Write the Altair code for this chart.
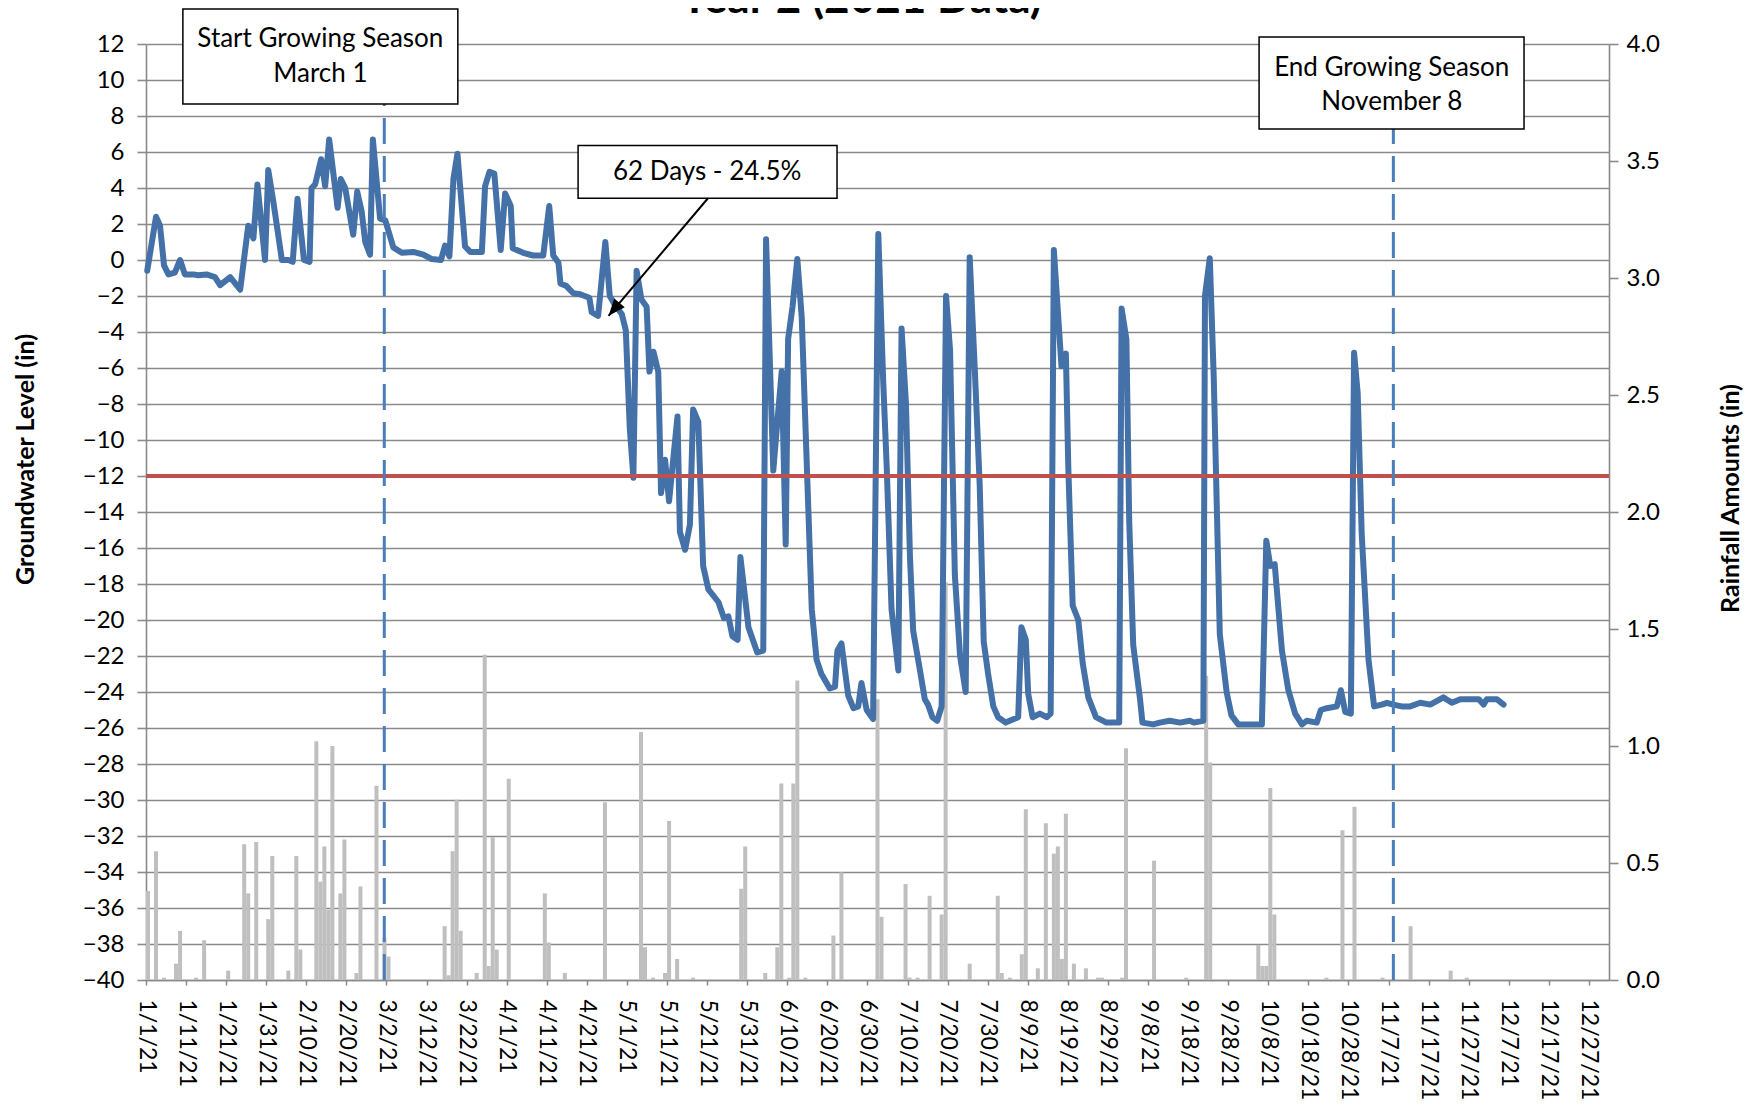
import json
import altair as alt
import pandas as pd

# ---------------- data ----------------
# Groundwater level (in): day offset from 1/1/21 and level
gw_day = [0.3, 2.5, 3.5, 4.5, 5.6, 7.2, 8.5, 9.7, 11.8, 13.0, 15.1, 17.2, 18.5, 21.0, 23.5, 25.5, 26.8, 27.8,
          29.7, 30.5, 31.8, 33.9, 35.5, 36.6, 37.8, 39.4, 40.8, 41.3, 42.2, 43.7, 44.7, 45.7, 47.8, 48.6, 49.7,
          51.7, 52.7, 53.8, 54.7, 55.9, 56.6, 58.4, 59.7, 61.7, 63.8, 66.7, 69.2, 71.3, 73.6, 74.6, 75.7, 76.7,
          77.7, 79.6, 80.9, 83.8, 84.6, 85.7, 86.9, 88.5, 89.6, 91.0, 91.5,
          94.1, 96.6, 99.1, 100.6, 101.6, 102.9, 103.4, 104.9, 106.6, 108.3, 110.6, 111.2, 112.8, 114.6, 115.7,
          117.0, 118.7, 119.7, 120.7, 121.6, 122.4, 123.6, 124.9, 125.6, 126.6, 127.8, 128.5, 129.5, 130.5,
          132.6, 133.2, 134.5, 135.7, 136.5, 137.8, 139.0, 140.3, 142.8, 144.2, 145.3, 146.3, 147.6, 148.3,
          150.3, 152.5, 154.0, 154.7, 155.5, 156.5, 157.7, 158.6, 159.6, 160.2, 161.3, 162.5, 163.6, 166.1,
          167.3, 168.5, 170.6, 171.9, 172.5, 173.5, 175.2, 176.5, 177.7, 178.5, 179.8, 181.4,
          182.7, 183.9, 184.8, 186.0, 187.7, 188.5, 189.6, 190.6, 191.4, 193.1, 194.3, 195.1, 196.2, 197.4,
          198.5, 199.6, 200.6, 201.8, 203.1, 204.5, 205.5, 206.8, 208.0, 209.0, 210.1, 211.4, 212.6, 214.5,
          215.5, 217.6, 218.4, 219.5, 220.1, 221.2, 223.0, 224.7, 225.7, 226.5, 227.6, 228.4, 229.5, 230.1,
          231.2, 232.6, 233.7, 235.1, 237.0, 239.6, 242.8, 243.4, 244.6, 245.3, 246.3, 248.0, 248.6, 251.3,
          252.9, 255.4, 258.0, 260.4, 261.4, 263.8, 264.2, 265.4, 266.4, 267.9, 269.6, 270.8, 272.5,
          273.4, 276.3, 278.4, 279.5, 280.5, 281.6, 283.4, 285.0, 286.7, 288.4, 289.6, 292.1, 293.1, 294.6,
          297.1, 298.1, 299.2, 300.6, 301.4, 302.3, 303.3, 305.0, 306.4, 308.3, 309.6, 311.2, 313.3, 315.4,
          317.9, 320.4, 323.7, 325.8, 327.9, 332.5, 333.7, 334.5, 337.0, 338.7]
gw_level = [-0.6, 2.4, 1.9, -0.3, -0.8, -0.7, 0.0, -0.8, -0.8, -0.85, -0.8, -0.95, -1.4, -0.95, -1.65, 1.9, 1.2, 4.2,
            0.0, 5.0, 3.2, 0.0, 0.0, -0.1, 3.4, 0.0, -0.1, 4.0, 4.2, 5.6, 4.1, 6.7, 2.9, 4.5, 4.0,
            1.4, 3.8, 2.7, 1.0, 0.3, 6.7, 2.3, 2.2, 0.7, 0.4, 0.45, 0.3, 0.05, 0.0, 0.8, 0.2, 4.5,
            5.9, 0.75, 0.45, 0.45, 4.1, 4.9, 4.8, 0.55, 3.7, 3.0, 0.65,
            0.4, 0.25, 0.25, 3.0, 0.25, -0.15, -1.3, -1.45, -1.85, -1.9, -2.1, -2.9, -3.1, 1.0, -2.0,
            -2.5, -3.0, -3.9, -9.35, -12.1, -0.6, -2.2, -2.6, -6.2, -5.1, -6.2, -12.95, -11.1, -13.4,
            -8.7, -15.1, -16.1, -14.7, -8.3, -9.0, -17.0, -18.3, -19.0, -19.9, -19.8, -20.9, -21.1, -16.5,
            -20.4, -21.8, -21.7, 1.15, -4.6, -11.7, -8.5, -6.2, -15.8, -4.4, -2.6, 0.06, -3.2, -19.4,
            -22.2, -23.0, -23.8, -23.7, -21.7, -21.3, -24.2, -24.9, -24.8, -23.5, -25.0, -25.5,
            1.45, -6.6, -11.5, -19.4, -22.8, -3.8, -8.0, -16.5, -20.6, -22.8, -24.4, -24.7, -25.4, -25.6,
            -24.8, -2.0, -5.0, -17.5, -22.0, -24.0, 0.15, -6.2, -12.5, -21.2, -23.0, -24.8, -25.4, -25.7,
            -25.6, -25.4, -20.4, -21.1, -24.1, -25.4, -25.2, -25.4, -25.2, 0.55, -3.2, -5.9, -5.2, -11.5,
            -19.2, -20.0, -22.4, -24.3, -25.4, -25.7, -25.7, -2.7, -4.4, -14.5, -21.4, -24.4, -25.7, -25.8,
            -25.7, -25.6, -25.7, -25.6, -25.7, -25.6, -2.0, 0.1, -6.6, -20.8, -24.0, -25.3, -25.8,
            -25.8, -25.8, -25.8, -15.6, -17.0, -16.9, -21.7, -23.9, -25.2, -25.8, -25.6, -25.7, -25.0, -24.9,
            -24.8, -23.9, -25.1, -25.2, -5.15, -7.4, -15.2, -22.2, -24.8, -24.7, -24.6, -24.7, -24.8, -24.8,
            -24.6, -24.7, -24.3, -24.6, -24.4, -24.4, -24.7, -24.4, -24.4, -24.7]

# Daily rainfall (in): day offset from 1/1/21 and amount
rain_day = [0, 2, 4, 7, 8, 12, 14, 20, 24, 25, 27, 30, 31, 35, 37, 38, 42, 43, 44, 45, 46, 48, 49, 52, 53, 57,
            59, 60, 74, 75, 76, 77, 78, 82, 84, 85, 86, 87, 90, 99, 100, 104, 114, 123, 124, 126, 129, 130,
            132, 136, 148, 149, 154, 157, 158, 160, 161, 162, 164, 171, 173, 182, 183, 189, 190, 192, 195,
            198, 199, 205, 212, 213, 215, 218, 219, 222, 224, 226, 227, 228, 229, 231, 234, 237, 238, 243,
            244, 251, 259, 264, 265, 277, 278, 279, 280, 281, 294, 298, 301, 308, 315, 325, 329]
rain_in = [0.38, 0.55, 0.01, 0.07, 0.21, 0.01, 0.17, 0.04, 0.58, 0.37, 0.59, 0.26, 0.53, 0.04, 0.53, 0.13,
           1.02, 0.42, 0.57, 0.30, 1.00, 0.37, 0.60, 0.03, 0.40, 0.83, 0.18, 0.10, 0.23, 0.02, 0.55, 0.77,
           0.21, 0.03, 1.39, 0.06, 0.61, 0.13, 0.86, 0.37, 0.16, 0.03, 0.76, 1.06, 0.14, 0.01, 0.03, 0.68,
           0.09, 0.01, 0.39, 0.57, 0.03, 0.14, 0.84, 0.01, 0.84, 1.28, 0.01, 0.19, 0.46, 1.20, 0.27, 0.41,
           0.01, 0.01, 0.36, 0.28, 1.70, 0.07, 0.36, 0.03, 0.01, 0.11, 0.73, 0.05, 0.67, 0.54, 0.57, 0.09,
           0.71, 0.07, 0.05, 0.01, 0.01, 0.01, 0.99, 0.51, 0.01, 1.30, 0.93, 0.15, 0.06, 0.06, 0.82, 0.28,
           0.01, 0.64, 0.74, 0.01, 0.23, 0.04, 0.01]

x_tick_days = [0, 10, 20, 30, 40, 50, 60, 70, 80, 90, 100, 110, 120, 130, 140, 150, 160, 170, 180, 190, 200,
               210, 220, 230, 240, 250, 260, 270, 280, 290, 300, 310, 320, 330, 340, 350, 360]
x_tick_labels = ["1/1/21", "1/11/21", "1/21/21", "1/31/21", "2/10/21", "2/20/21", "3/2/21", "3/12/21",
                 "3/22/21", "4/1/21", "4/11/21", "4/21/21", "5/1/21", "5/11/21", "5/21/21", "5/31/21",
                 "6/10/21", "6/20/21", "6/30/21", "7/10/21", "7/20/21", "7/30/21", "8/9/21", "8/19/21",
                 "8/29/21", "9/8/21", "9/18/21", "9/28/21", "10/8/21", "10/18/21", "10/28/21", "11/7/21",
                 "11/17/21", "11/27/21", "12/7/21", "12/17/21", "12/27/21"]
gw_ticks = [-40, -38, -36, -34, -32, -30, -28, -26, -24, -22, -20, -18, -16, -14, -12, -10, -8, -6, -4, -2,
            0, 2, 4, 6, 8, 10, 12]
rain_ticks = [0.0, 0.5, 1.0, 1.5, 2.0, 2.5, 3.0, 3.5, 4.0]

threshold_level = -12
season_days = [59.45, 311.2]
season_box_bottom = [8.67, 7.28]

box_labels = ["start", "end", "days"]
box_x1 = [9.2, 277.7, 107.8]
box_x2 = [77.8, 343.8, 172.4]
box_y1 = [13.95, 12.39, 6.36]
box_y2 = [8.67, 7.28, 3.43]

note_text = ["Start Growing Season", "March 1", "End Growing Season", "November 8", "62 Days - 24.5%"]
note_day = [43.5, 43.5, 310.8, 310.8, 140.0]
note_level = [12.28, 10.33, 10.67, 8.78, 4.9]

arrow_start = (140.2, 3.43)
arrow_tip = (115.4, -3.1)

chart_title = "Year 2 (2021 Data)"
title_pos = (178.4, 13.7)

# ---------------- styling ----------------
FONT = "Lato"
GRID = "#8a8a8a"
LINE_BLUE = "#4471a8"

x_axis = alt.Axis(values=x_tick_days,
                  labelExpr=json.dumps(x_tick_labels) + "[round(datum.value / 10)]",
                  labelAngle=90, labelAlign="left", labelBaseline="middle",
                  labelPadding=14, labelFont=FONT, labelFontSize=23, labelColor="black",
                  labelFlush=False, labelOverlap=False,
                  tickSize=5, tickColor=GRID, tickWidth=1.5,
                  domainColor=GRID, domainWidth=1.5, grid=False)
x_scale = alt.Scale(domain=[0, 365], nice=False, zero=False)

gw_axis = alt.Axis(orient="left", values=gw_ticks, format="d", grid=True, gridColor=GRID, gridWidth=1.6,
                   domainColor=GRID, domainWidth=1.6, tickColor=GRID, tickWidth=1.6, tickSize=9,
                   labelPadding=13, labelFont=FONT, labelFontSize=24, labelColor="black",
                   labelFlush=False, labelOverlap=False,
                   title="Groundwater Level (in)", titleFont=FONT, titleFontSize=25, titleFontWeight="bold",
                   titleColor="black", titleAngle=270, titleX=-121, titleY=415,
                   titleAlign="center", titleBaseline="middle")
gw_scale = alt.Scale(domain=[-40, 12], nice=False, zero=False)

rain_axis = alt.Axis(orient="right", values=rain_ticks, format=".1f", grid=False,
                     domainColor=GRID, domainWidth=1.6, tickColor=GRID, tickWidth=1.6, tickSize=9,
                     labelPadding=8, labelFont=FONT, labelFontSize=24, labelColor="black",
                     labelFlush=False, labelOverlap=False,
                     title="Rainfall Amounts (in)", titleFont=FONT, titleFontSize=25, titleFontWeight="bold",
                     titleColor="black", titleAngle=270, titleX=121, titleY=454,
                     titleAlign="center", titleBaseline="middle")


def X(field):
    return alt.X(field, type="quantitative", scale=x_scale, axis=x_axis, title=None)


def Y(field):
    return alt.Y(field, type="quantitative", scale=gw_scale, axis=gw_axis)


# ---------------- tables ----------------
line_df = pd.DataFrame({"day": gw_day, "level": gw_level})
rain_df = pd.DataFrame({"day": rain_day, "day_end": [d + 1 for d in rain_day], "rain": rain_in,
                        "base": [0.0] * len(rain_day)})
thr_df = pd.DataFrame({"day": [0], "day_end": [365], "level": [threshold_level]})
season_df = pd.DataFrame({"day": season_days, "bottom": [-40, -40], "top": season_box_bottom})
box_df = pd.DataFrame({"name": box_labels, "x1": box_x1, "x2": box_x2, "y1": box_y1, "y2": box_y2})
note_df = pd.DataFrame({"day": note_day, "level": note_level, "text": note_text})
arrow_df = pd.DataFrame({"day": [arrow_start[0]], "day_end": [arrow_tip[0]],
                         "level": [arrow_start[1]], "level_end": [arrow_tip[1]]})
tip_df = pd.DataFrame({"day": [arrow_tip[0]], "level": [arrow_tip[1]]})
title_df = pd.DataFrame({"day": [title_pos[0]], "level": [title_pos[1]], "text": [chart_title]})

# ---------------- layers ----------------
bars = alt.Chart(rain_df).mark_bar(color="#bfbfbf").encode(
    x=X("day"), x2="day_end",
    y=alt.Y("rain", type="quantitative", scale=alt.Scale(domain=[0, 4], nice=False), axis=rain_axis),
    y2="base",
)

line = alt.Chart(line_df).mark_line(color=LINE_BLUE, strokeWidth=6, strokeJoin="round",
                                    strokeCap="round").encode(
    x=X("day"), y=Y("level"))

thr = alt.Chart(thr_df).mark_rule(color="#c0504d", strokeWidth=4).encode(
    x=X("day"), x2="day_end", y=Y("level"))

season = alt.Chart(season_df).mark_rule(color="#4a7ebb", strokeWidth=3, strokeDash=[26, 12]).encode(
    x=X("day"), y=Y("bottom"), y2="top")

boxes = alt.Chart(box_df).mark_rect(fill="white", stroke="black", strokeWidth=1.5).encode(
    x=X("x1"), x2="x2", y=Y("y1"), y2="y2")

notes = alt.Chart(note_df).mark_text(font=FONT, fontSize=26, color="black", align="center",
                                     baseline="middle").encode(
    x=X("day"), y=Y("level"), text="text")

arrow = alt.Chart(arrow_df).mark_rule(color="black", strokeWidth=2).encode(
    x=X("day"), x2="day_end", y=Y("level"), y2="level_end")

head = alt.Chart(tip_df).mark_point(shape="M0,0L0.65,1.6L-0.65,1.6Z", size=450, filled=True,
                                    color="black", opacity=1, angle=220.2).encode(
    x=X("day"), y=Y("level"))

title = alt.Chart(title_df).mark_text(font=FONT, fontSize=44, fontWeight="bold", color="black",
                                      align="center", baseline="alphabetic").encode(
    x=X("day"), y=Y("level"), text="text")

gw = alt.layer(line, thr, season, boxes, notes, arrow, head, title)

chart = alt.layer(bars, gw).resolve_scale(y="independent").properties(
    width=1463, height=936,
    autosize=alt.AutoSizeParams(type="none"),
    padding={"left": 138, "top": 36, "right": 139, "bottom": 121},
).configure_view(strokeWidth=0).configure(font=FONT)

chart.save("out.html", embed_options={"renderer": "svg", "actions": False})
